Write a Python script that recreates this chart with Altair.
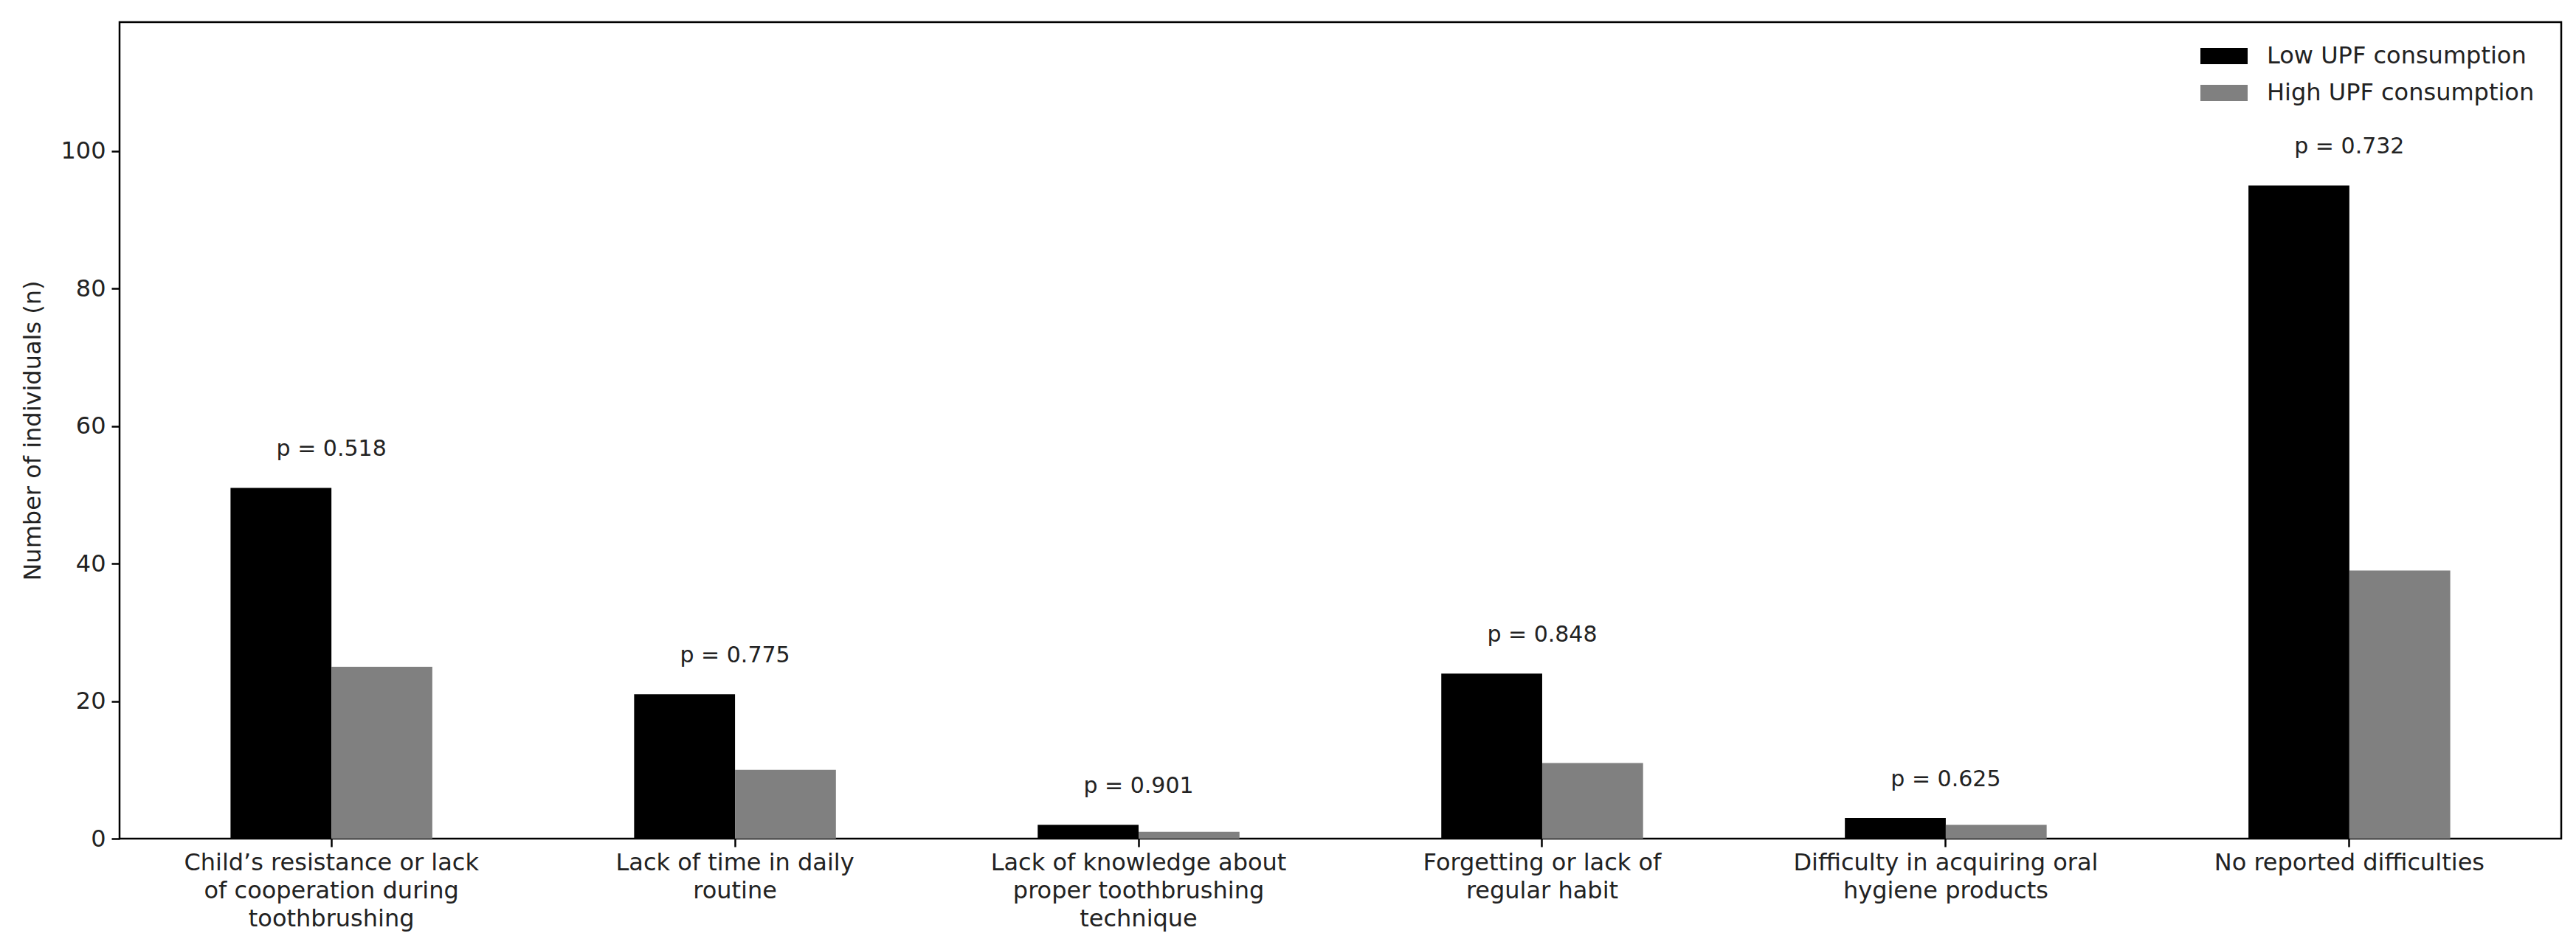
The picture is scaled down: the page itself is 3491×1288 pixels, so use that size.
import altair as alt
import pandas as pd

categories = [
    "Child\u2019s resistance or lack\nof cooperation during\ntoothbrushing",
    "Lack of time in daily\nroutine",
    "Lack of knowledge about\nproper toothbrushing\ntechnique",
    "Forgetting or lack of\nregular habit",
    "Difficulty in acquiring oral\nhygiene products",
    "No reported difficulties",
]
groups = ["Low UPF consumption", "High UPF consumption"]
low_upf = [51, 21, 2, 24, 3, 95]
high_upf = [25, 10, 1, 11, 2, 39]
p_labels = ["p = 0.518", "p = 0.775", "p = 0.901", "p = 0.848", "p = 0.625", "p = 0.732"]
y_ticks = [0, 20, 40, 60, 80, 100]
colors = ["#000000", "#808080"]

bars_df = pd.DataFrame(
    [{"cat": c, "group": groups[0], "value": v} for c, v in zip(categories, low_upf)]
    + [{"cat": c, "group": groups[1], "value": v} for c, v in zip(categories, high_upf)]
)
text_df = pd.DataFrame({"cat": categories, "low": low_upf, "high": high_upf, "p": p_labels})

FONT = "DejaVu Sans"

x_enc = alt.X(
    "cat:N",
    sort=categories,
    scale=alt.Scale(paddingInner=0.5, paddingOuter=0.275),
    axis=alt.Axis(
        title=None,
        labelAngle=0,
        labelExpr="split(datum.label, '\\n')",
        labelFontSize=32,
        labelLineHeight=38,
        labelPadding=6,
        tickSize=11,
        tickWidth=2.5,
        tickColor="#000000",
        labelColor="#222222",
        domain=False,
        labelLimit=0,
    ),
)

bars = alt.Chart(bars_df).mark_bar(stroke=None).encode(
    x=x_enc,
    xOffset=alt.XOffset("group:N", sort=groups),
    y=alt.Y(
        "value:Q",
        scale=alt.Scale(domain=[0, 118.75], nice=False),
        axis=alt.Axis(
            title="Number of individuals (n)",
            values=y_ticks,
            labelFontSize=32,
            labelPadding=8,
            tickSize=11,
            tickWidth=2.5,
            tickColor="#000000",
            labelColor="#222222",
            titleFontSize=32,
            titleFontWeight="normal",
            titleColor="#222222",
            titlePadding=20,
            domain=False,
            grid=False,
        ),
    ),
    color=alt.Color(
        "group:N",
        sort=groups,
        scale=alt.Scale(domain=groups, range=colors),
        legend=alt.Legend(
            title=None,
            orient="none",
            legendX=2820,
            legendY=14,
            symbolType="M-1,-0.344L1,-0.344L1,0.344L-1,0.344Z",
            symbolSize=4096,
            symbolStrokeWidth=0,
            labelFontSize=32,
            labelColor="#222222",
            labelOffset=26,
            labelLimit=0,
            rowPadding=2,
            padding=0,
        ),
    ),
)

texts = alt.Chart(text_df).transform_calculate(
    ypos="max(datum.low, datum.high) + 4"
).mark_text(baseline="bottom", fontSize=30, color="#222222", font=FONT).encode(
    x=alt.X("cat:N", sort=categories),
    y=alt.Y("ypos:Q"),
    text="p:N",
)

chart = (
    alt.layer(bars, texts)
    .properties(
        width=3309,
        height=1107,
        padding={"left": 20, "top": 22, "right": 8, "bottom": 4},
    )
    .configure(font=FONT)
    .configure_view(stroke="#000000", strokeWidth=2.5)
    .configure_axis(labelFont=FONT, titleFont=FONT)
    .configure_legend(labelFont=FONT)
)

chart.save("out.html", embed_options={"renderer": "svg", "actions": False})
